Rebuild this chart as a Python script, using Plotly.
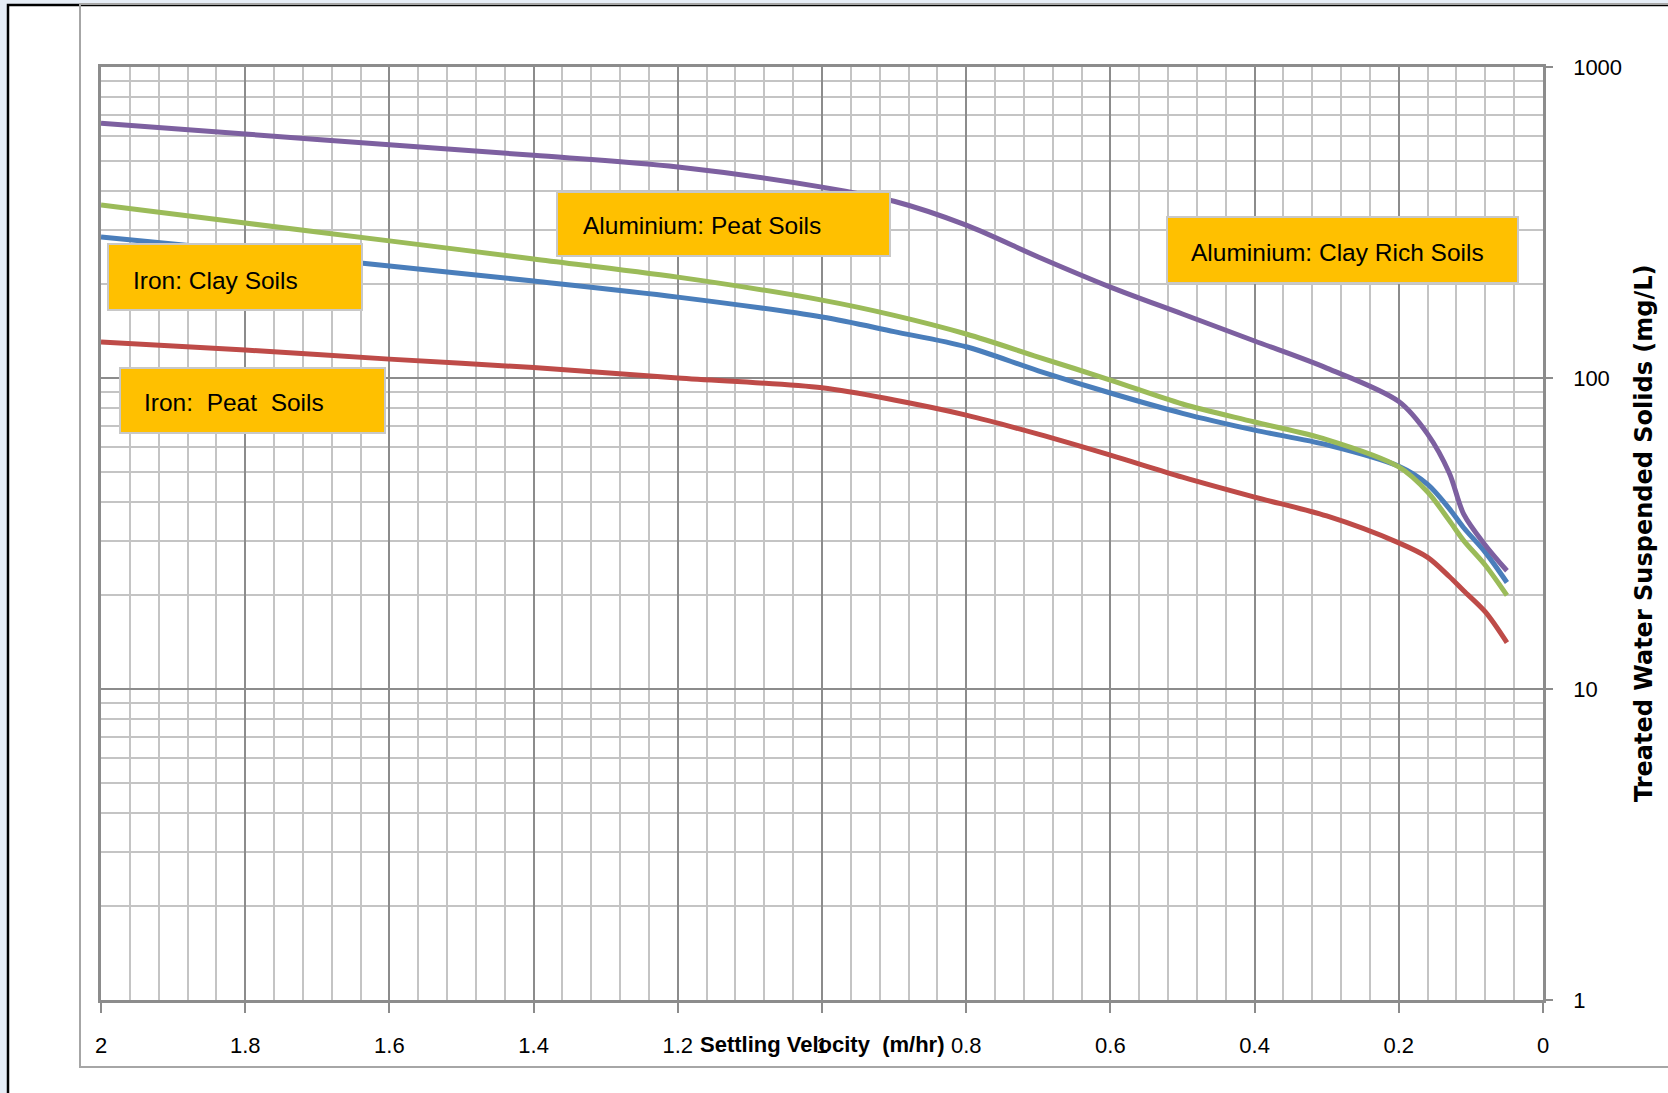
import plotly.graph_objects as go

# ---- data ----
settling_velocity = [2.0, 1.8, 1.6, 1.4, 1.2, 1.0, 0.9, 0.8, 0.7, 0.6, 0.5, 0.4, 0.3, 0.2, 0.16, 0.13, 0.11, 0.08, 0.05]
iron_clay = [284, 256, 229, 205, 182, 157, 141, 126, 105.5, 89.5, 77, 68, 61, 52, 45.5, 38, 33, 27.5, 22]
iron_peat = [130.6, 123, 115, 108, 100, 93, 85, 76, 66, 56.5, 48, 41.4, 36, 29.5, 26.5, 23, 20.7, 17.7, 14.1]
al_clay = [360, 315, 276, 241.5, 211, 178, 159, 138.5, 116.8, 98.5, 82.5, 72.2, 63.4, 51.8, 43, 34.8, 30, 25, 20]
al_peat = [660, 609, 562, 520, 477, 411, 370, 310, 245, 196, 160.6, 131.5, 107.6, 84, 66, 49.5, 36.5, 29, 24]

series_names = ["Iron: Clay Soils", "Iron: Peat Soils", "Aluminium: Clay Rich Soils", "Aluminium: Peat Soils"]
series_values = [iron_clay, iron_peat, al_clay, al_peat]
series_colors = ["#4A7EBB", "#BE4B48", "#9BBB59", "#7D60A0"]

x_ticks = [2.0, 1.8, 1.6, 1.4, 1.2, 1.0, 0.8, 0.6, 0.4, 0.2, 0.0]
y_ticks = [1, 10, 100, 1000]
y_minor = [m * d for d in (1, 10, 100) for m in range(2, 10)]

label_texts = ["Iron: Clay Soils", "Iron:\u00a0 Peat\u00a0 Soils", "Aluminium: Peat Soils", "Aluminium: Clay Rich Soils"]
x_title = "Settling Velocity\u00a0 (m/hr)"
y_title = "Treated Water Suspended Solids (mg/L)"

# ---- geometry helpers (pixel -> paper) ----
W, H = 1668, 1093
L, R, T, B = 101, 1543, 67, 1000
def px(x):
    return (x - L) / (R - L)
def py(y):
    return (B - y) / (B - T)

SANS = "Liberation Sans, Arial, sans-serif"
GRID_MAJOR = "#8C8C8C"
GRID_MINOR = "#C4C4C4"

fig = go.Figure()
for name, vals, col in zip(series_names, series_values, series_colors):
    fig.add_trace(go.Scatter(x=settling_velocity, y=vals, mode="lines", name=name,
                             line=dict(color=col, width=5, shape="spline", smoothing=0.9)))

shapes = []
# page frame: white sheet with black border, grey inner chart box
shapes.append(dict(type="rect", xref="paper", yref="paper", x0=px(8), x1=px(W + 5), y0=py(5), y1=py(H + 5),
                   fillcolor="white", line=dict(color="black", width=2.5), layer="below"))
shapes.append(dict(type="rect", xref="paper", yref="paper", x0=px(80), x1=px(W + 5), y0=py(4), y1=py(1067),
                   fillcolor="rgba(0,0,0,0)", line=dict(color="#A6A6A6", width=2), layer="below"))

# label boxes (x0, x1, y0, y1 in pixels) and text anchor (x, y centre)
boxes = [(108, 362, 244, 310), (120, 385, 368, 433), (557, 890, 192, 256), (1167, 1518, 217, 283)]
text_pos = [(131, 280), (142, 403), (581, 226), (1189, 252)]
for (x0, x1, y0, y1) in boxes:
    shapes.append(dict(type="rect", xref="paper", yref="paper", x0=px(x0), x1=px(x1), y0=py(y0), y1=py(y1),
                       fillcolor="#FFC000", line=dict(color="#C8C8C8", width=2), layer="above"))

annotations = []
for txt, (tx, ty) in zip(label_texts, text_pos):
    annotations.append(dict(text=txt, xref="paper", yref="paper", x=px(tx), y=py(ty), xanchor="left",
                            yanchor="middle", showarrow=False, font=dict(family=SANS, size=24.5, color="black")))
annotations.append(dict(text="<b>" + x_title + "</b>", xref="x", yref="paper", x=1.0, y=py(1044),
                        xanchor="center", yanchor="middle", showarrow=False,
                        font=dict(family=SANS, size=22, color="black")))
annotations.append(dict(text="<b>" + y_title + "</b>", xref="paper", yref="paper", x=px(1644), y=py(533),
                        xanchor="center", yanchor="middle", textangle=-90, showarrow=False,
                        font=dict(family="DejaVu Sans, sans-serif", size=24, color="black")))

fig.update_layout(
    width=W, height=H,
    margin=dict(l=L, r=W - R, t=T, b=H - B, pad=0),
    paper_bgcolor="#E6EDF6", plot_bgcolor="rgba(0,0,0,0)",
    showlegend=False, shapes=shapes, annotations=annotations,
    xaxis=dict(range=[2, 0], tickvals=x_ticks, showgrid=True, gridcolor=GRID_MAJOR, gridwidth=1.5,
               minor=dict(dtick=0.04, tick0=0, showgrid=True, gridcolor=GRID_MINOR, gridwidth=1.5, ticks=""),
               ticks="outside", ticklen=10, tickwidth=2, tickcolor=GRID_MAJOR,
               showline=True, linecolor=GRID_MAJOR, linewidth=2.5, mirror=True, zeroline=False,
               tickfont=dict(family=SANS, size=22, color="black"), ticklabelstandoff=14),
    yaxis=dict(type="log", range=[0, 3], side="right", tickvals=y_ticks, ticktext=[str(v) for v in y_ticks],
               showgrid=True, gridcolor=GRID_MAJOR, gridwidth=1.5,
               minor=dict(tickvals=y_minor, showgrid=True, gridcolor=GRID_MINOR, gridwidth=1.5, ticks=""),
               ticks="outside", ticklen=7, tickwidth=2, tickcolor=GRID_MAJOR,
               showline=True, linecolor=GRID_MAJOR, linewidth=2.5, mirror=True, zeroline=False,
               tickfont=dict(family=SANS, size=22, color="black"), ticklabelstandoff=16),
)

fig.write_html("out.html", config={"displayModeBar": False},
               post_script="document.body.style.margin='0px';")
